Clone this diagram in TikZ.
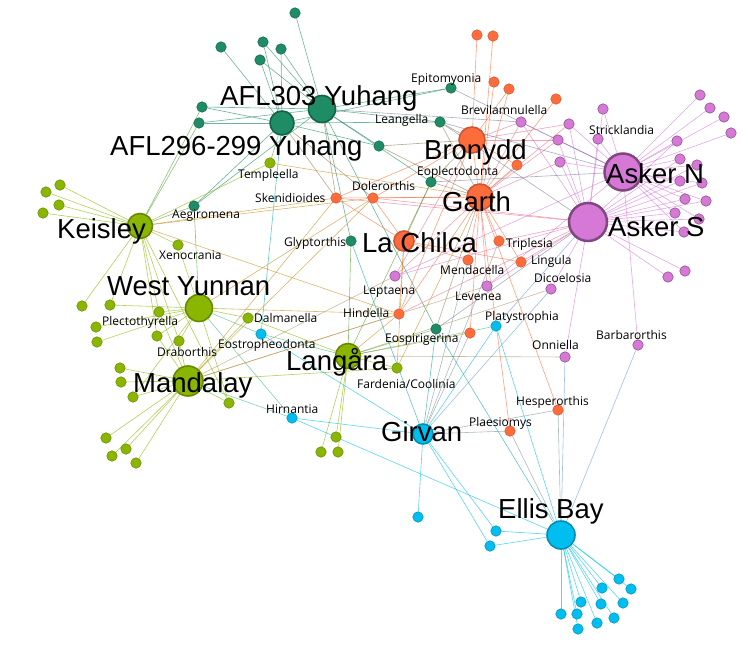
\documentclass[tikz,border=0pt]{standalone}
\usepackage{fontspec}
\setmainfont{Liberation Sans}
\newfontfamily\taxfont{Open Sans}
\usepackage{tikz}
\pgfdeclarelayer{edges}
\pgfsetlayers{edges,main}

\definecolor{cDg}{RGB}{30,140,100}
\definecolor{cOr}{RGB}{255,108,60}
\definecolor{cVi}{RGB}{214,120,214}
\definecolor{cYg}{RGB}{138,181,0}
\definecolor{cCy}{RGB}{0,191,240}

% one hub to a list of taxa, one colour
\newcommand{\links}[3]{\foreach \tx in {#3} \draw[edge,draw=#2] (#1) -- (\tx);}

\begin{document}
\begin{tikzpicture}[
        x=1pt,y=-1pt,
        dot/.style={circle,inner sep=0pt,minimum size=10.5pt,line width=0.5pt},
        hub/.style={circle,inner sep=0pt,line width=1.6pt},
        dgn/.style={fill=cDg,draw=cDg!70!black},
        org/.style={fill=cOr,draw=cOr!80!black},
        vio/.style={fill=cVi,draw=cVi!60!black},
        ygn/.style={fill=cYg,draw=cYg!75!black},
        cyn/.style={fill=cCy,draw=cCy!75!black},
        edge/.style={line width=0.6pt,draw opacity=0.65},
        big/.style={font=\fontsize{27.5}{30}\selectfont,inner sep=0pt,anchor=base west},
        tax/.style={font=\taxfont\fontsize{12}{14}\selectfont,inner sep=0pt,anchor=base west}
    ]
    \useasboundingbox (0,0) rectangle (748,648);

    % Hubs
    \node[hub,dgn,minimum size=27pt] (afl303) at (322,109) {};
    \node[hub,dgn,minimum size=24pt] (afl296) at (282,123) {};
    \node[hub,org,minimum size=26pt] (bron) at (472,140) {};
    \node[hub,org,minimum size=26pt] (garth) at (480,197) {};
    \node[hub,org,minimum size=20pt] (lachil) at (404,241) {};
    \node[hub,vio,line width=2.5pt,minimum size=37pt] (askn) at (623,172) {};
    \node[hub,vio,line width=2.5pt,minimum size=38pt] (asks) at (588,222) {};
    \node[hub,ygn,minimum size=25pt] (keis) at (140,226) {};
    \node[hub,ygn,minimum size=27pt] (wyun) at (199,308) {};
    \node[hub,ygn,minimum size=30pt] (mand) at (188,381) {};
    \node[hub,ygn,minimum size=25pt] (lang) at (348,356) {};
    \node[hub,cyn,minimum size=20pt] (girv) at (423,434) {};
    \node[hub,cyn,minimum size=28pt] (ellis) at (561,535) {};

    % Named taxa
    \node[dot,dgn] (epit) at (451,88) {};
    \node[dot,dgn] (lean) at (440,122) {};
    \node[dot,vio] (brev) at (521,122) {};
    \node[dot,dgn] (eopl) at (431,182) {};
    \node[dot,org] (sken) at (336,198) {};
    \node[dot,org] (dole) at (373,198) {};
    \node[dot,ygn] (temp) at (270,163) {};
    \node[dot,dgn] (aegi) at (194,206) {};
    \node[dot,ygn] (xeno) at (178,245) {};
    \node[dot,dgn] (glyp) at (351,241) {};
    \node[dot,org] (trip) at (499,241) {};
    \node[dot,org] (ling) at (521,262) {};
    \node[dot,org] (mend) at (468,260) {};
    \node[dot,vio] (dico) at (551,289) {};
    \node[dot,vio] (leve) at (487,286) {};
    \node[dot,vio] (lept) at (395,276) {};
    \node[dot,org] (hind) at (399,314) {};
    \node[dot,cyn] (plat) at (496,326) {};
    \node[dot,dgn] (eosp) at (436,329) {};
    \node[dot,org] (o7) at (470,333) {};
    \node[dot,vio] (onni) at (565,357) {};
    \node[dot,vio] (barb) at (638,345) {};
    \node[dot,org] (hesp) at (558,410) {};
    \node[dot,org] (plae) at (510,431) {};
    \node[dot,ygn] (dalm) at (248,318) {};
    \node[dot,cyn] (eost) at (261,334) {};
    \node[dot,ygn] (plec) at (159,312) {};
    \node[dot,ygn] (drab) at (179,341) {};
    \node[dot,ygn] (fard) at (397,368) {};
    \node[dot,cyn] (hirn) at (292,418) {};
    \node[dot,vio] (stri) at (598,139) {};

    % Unnamed taxa
    \foreach \n/\x/\y in {g1/295/13,g2/221/47,g3/263/42,g4/281/49,g5/260/60,g6/202/107,g7/199/123,g8/379/146}
        \node[dot,dgn] (\n) at (\x,\y) {};
    \foreach \n/\x/\y in {o1/477/35,o2/493/36,o3/494/82,o4/509/89,o5/556/99,o6/517/165}
        \node[dot,org] (\n) at (\x,\y) {};
    \foreach \n/\x/\y in {v1/603/109,v2/569/124,v3/558/140,v4/560/162,v5/700/95,v6/710/108,v7/724/117,v8/731/133,v9/677/141,v10/680/159,v11/697/165,v12/680/181,v13/702/183,v14/685/199,v15/706/201,v16/675/213,v17/699/219,v18/684/232,v19/668/277,v20/685/271}
        \node[dot,vio] (\n) at (\x,\y) {};
    \foreach \n/\x/\y in {y1/60/185,y2/46/192,y3/59/205,y4/43/213,y5/82/306,y6/110/305,y7/96/327,y8/97/342,y9/157/336,y10/120/368,y11/121/382,y12/133/397,y13/229/403,y14/106/438,y15/112/456,y16/126/449,y17/136/463,y18/336/437,y19/321/452,y20/338/452}
        \node[dot,ygn] (\n) at (\x,\y) {};
    \foreach \n/\x/\y in {c1/418/517,c2/496/531,c3/490/546,c4/619/579,c5/602/588,c6/631/589,c7/581/602,c8/601/604,c9/623/603,c10/614/618,c11/561/614,c12/577/614,c13/597/623,c14/578/629}
        \node[dot,cyn] (\n) at (\x,\y) {};

    % Links
    \begin{pgfonlayer}{edges}
    \links{afl303}{cDg}{g1,g3,g4,g5,g6,g7,g8,epit,lean,eopl,glyp,eosp,aegi}
    \links{afl303}{cDg!50!cOr}{sken}
    \links{afl303}{cDg!50!cVi}{brev}
    \links{afl296}{cDg}{g2,g3,g4,g5,g6,g7,g8,epit,lean,aegi}
    \links{afl296}{cDg!50!cOr}{sken,dole}
    \links{afl296}{cDg!50!cYg}{temp}
    \links{afl296}{cDg!40!cCy}{eost}
    \links{bron}{cOr}{o1,o4,o6,sken,dole,hind,plae}
    \links{bron}{cOr!50!cVi}{v2,v3,brev,lept}
    \links{bron}{cOr!50!cDg}{lean,eopl,g8}
    \links{garth}{cOr}{o2,o3,o4,o5,o6,sken,dole,trip,ling,mend,hind,o7,hesp}
    \links{garth}{cOr!50!cVi}{v2,v3,v4,brev,lept,leve}
    \links{garth}{cOr!50!cDg}{lean,eopl,eosp,g8}
    \links{garth}{cOr!50!cYg}{temp,fard}
    \links{lachil}{cOr}{sken,ling,mend,hind,dole}
    \links{lachil}{cOr!50!cDg}{eopl}
    \links{lachil}{cOr!50!cYg}{fard}
    \links{askn}{cVi}{v1,v2,v3,v4,v5,v6,v7,v8,v9,v10,v11,v12,v13,v14,v15,v16,v17,v18,stri,brev,lept,leve,barb}
    \links{askn}{cVi!50!cDg}{epit,eopl,lean}
    \links{asks}{cVi}{v1,v2,v3,v4,v9,v10,v11,v12,v13,v14,v15,v16,v17,v18,v19,v20,stri,brev,dico,leve,lept,onni}
    \links{asks}{cVi!50!cOr}{sken,dole,trip,ling,hind}
    \links{asks}{cVi!50!cDg}{lean,eosp}
    \links{asks}{cVi!50!cCy}{plat}
    \links{keis}{cYg}{y1,y2,y3,y4,y5,y6,y9,y13,temp,xeno,plec,drab}
    \links{keis}{cYg!50!cDg}{g6,g7,aegi}
    \links{keis}{cYg!50!cOr}{sken,dole,hind}
    \links{wyun}{cYg}{y6,y7,y8,y9,y12,y13,xeno,dalm,plec,drab}
    \links{wyun}{cYg!50!cDg}{aegi}
    \links{wyun}{cYg!50!cOr}{dole,hind}
    \links{wyun}{cYg!50!cCy}{eost,hirn}
    \links{mand}{cYg}{y9,y10,y11,y12,y13,y14,y15,y16,y17,dalm,plec,drab,fard}
    \links{mand}{cYg!50!cOr}{sken,dole,hind}
    \links{mand}{cYg!50!cVi}{lept,leve}
    \links{mand}{cYg!50!cCy}{hirn}
    \links{lang}{cYg}{y18,y19,y20,dalm,fard}
    \links{lang}{cYg!50!cDg}{eopl,glyp,eosp}
    \links{lang}{cYg!50!cOr}{hind,o7}
    \links{lang}{cYg!50!cVi}{dico,onni}
    \links{lang}{cYg!50!cCy}{plat,eost}
    \links{girv}{cCy}{c1,c2,c3,plat,eost,hirn}
    \links{girv}{cCy!50!cDg}{glyp,eosp}
    \links{girv}{cCy!50!cOr}{trip,mend,o7,hesp,plae}
    \links{girv}{cCy!50!cVi}{dico}
    \links{ellis}{cCy}{c2,c3,c4,c5,c6,c7,c8,c9,c10,c11,c12,c13,c14,plat,hirn}
    \links{ellis}{cCy!50!cDg}{eosp}
    \links{ellis}{cCy!50!cVi}{onni,barb}
    \links{ellis}{cCy!50!cOr}{hesp,plae}
    \end{pgfonlayer}

    % Hub labels
    \node[big] (lAfl303) at (220,105) {AFL303 Yuhang};
    \node[big] (lAfl296) at (110,155) {AFL296-299 Yuhang};
    \node[big] (lBron) at (424,159) {Bronydd};
    \node[big] (lGarth) at (442,211) {Garth};
    \node[big] (lLachil) at (362,252) {La Chilca};
    \node[big] (lAskn) at (606,183) {Asker N};
    \node[big] (lAsks) at (608,236) {Asker S};
    \node[big] (lKeis) at (57,238) {Keisley};
    \node[big] (lWyun) at (107,295) {West Yunnan};
    \node[big] (lMand) at (133,392) {Mandalay};
    \node[big] (lLang) at (286,370) {Langåra};
    \node[big] (lGirv) at (381,441) {Girvan};
    \node[big] (lEllis) at (498,518) {Ellis Bay};

    % Taxon labels
    \node[tax] (lEpit) at (411,82) {Epitomyonia};
    \node[tax] (lLean) at (375,123) {Leangella};
    \node[tax] (lBrev) at (461,114) {Brevilamnulella};
    \node[tax] (lEopl) at (417,175) {Eoplectodonta};
    \node[tax] (lSken) at (255,202) {Skenidioides};
    \node[tax] (lDole) at (352,190) {Dolerorthis};
    \node[tax] (lTemp) at (238,178) {Templeella};
    \node[tax] (lAegi) at (172,218) {Aegiromena};
    \node[tax] (lXeno) at (159,259) {Xenocrania};
    \node[tax] (lGlyp) at (284,246) {Glyptorthis};
    \node[tax] (lTrip) at (506,247) {Triplesia};
    \node[tax] (lLing) at (531,264) {Lingula};
    \node[tax] (lMend) at (440,274) {Mendacella};
    \node[tax] (lDico) at (534,282) {Dicoelosia};
    \node[tax] (lLeve) at (455,300) {Levenea};
    \node[tax] (lLept) at (363,294) {Leptaena};
    \node[tax] (lHind) at (343,317) {Hindella};
    \node[tax] (lPlat) at (485,320) {Platystrophia};
    \node[tax] (lEosp) at (385,342) {Eospirigerina};
    \node[tax] (lOnni) at (532,349) {Onniella};
    \node[tax] (lBarb) at (596,339) {Barbarorthis};
    \node[tax] (lHesp) at (516,405) {Hesperorthis};
    \node[tax] (lPlae) at (469,426) {Plaesiomys};
    \node[tax] (lDalm) at (254,322) {Dalmanella};
    \node[tax] (lEost) at (218,348) {Eostropheodonta};
    \node[tax] (lPlec) at (102,325) {Plectothyrella};
    \node[tax] (lDrab) at (157,356) {Draborthis};
    \node[tax] (lFard) at (357,388) {Fardenia/Coolinia};
    \node[tax] (lHirn) at (266,413) {Hirnantia};
    \node[tax] (lStri) at (589,134) {Stricklandia};
\end{tikzpicture}
\end{document}
